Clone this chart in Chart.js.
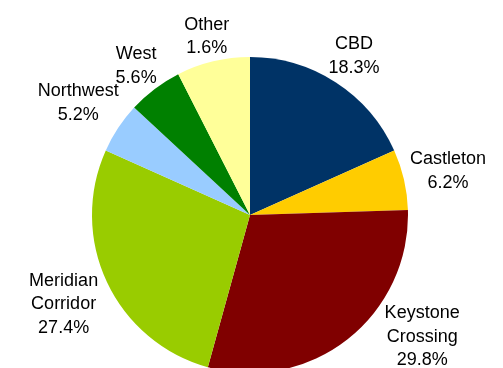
<!DOCTYPE html>
<html>
<head>
<meta charset="utf-8">
<script src="https://cdn.jsdelivr.net/npm/chart.js@4/dist/chart.umd.min.js"></script>
<style>
  html, body { margin: 0; padding: 0; background: #fff; }
  #wrap { width: 503px; height: 368px; }
</style>
</head>
<body>
<div id="wrap"><canvas id="pie" width="503" height="368"></canvas></div>
<script>
const categories = ["CBD", "Castleton", ["Keystone", "Crossing"], ["Meridian", "Corridor"], "Northwest", "West", "Other"];
// slice sizes
const values = [18.3, 6.2, 29.8, 27.4, 5.2, 5.6, 7.5];
// percentages printed on the original (Other reads 1.6% there)
const pctLabels = ["18.3%", "6.2%", "29.8%", "27.4%", "5.2%", "5.6%", "1.6%"];
const colors = ["#003366", "#FFCC00", "#800000", "#99CC00", "#99CCFF", "#008000", "#FFFF99"];

const FONT_SIZE = 18;
const LINE_H = 23.5;
const CAP_H = FONT_SIZE * 0.716;
const PAD = 4;

// Outside-end labels, pushed out of the pie and kept inside the canvas
const outsideLabels = {
  id: "outsideLabels",
  afterDatasetsDraw(chart) {
    const ctx = chart.ctx;
    const meta = chart.getDatasetMeta(0);
    const W = chart.width, H = chart.height;
    ctx.save();
    ctx.font = FONT_SIZE + "px 'Liberation Sans', Arial, sans-serif";
    ctx.fillStyle = "#000";
    ctx.textAlign = "center";
    ctx.textBaseline = "alphabetic";

    meta.data.forEach((arc, i) => {
      const p = arc.getProps(["x", "y", "startAngle", "endAngle", "outerRadius"], true);
      const cat = chart.data.labels[i];
      const lines = (Array.isArray(cat) ? cat : [cat]).concat([pctLabels[i]]);
      let w = 0;
      for (const l of lines) w = Math.max(w, ctx.measureText(l).width);
      const hw = w / 2;
      const hh = ((lines.length - 1) * LINE_H + CAP_H) / 2;

      const a = (p.startAngle + p.endAngle) / 2;
      const ux = Math.cos(a), uy = Math.sin(a);
      const r = p.outerRadius + PAD;
      const dist = r + hw * Math.abs(ux) + hh * Math.abs(uy);
      let cx = p.x + ux * dist;
      let cy = p.y + uy * dist;

      // keep inside canvas; if moved, slide sideways to clear the pie again
      const minY = hh + 2, maxY = H - hh - 3;
      if (cy > maxY || cy < minY) {
        cy = Math.min(Math.max(cy, minY), maxY);
        const near = uy > 0 ? (cy - hh - p.y) : (p.y - (cy + hh));
        const dx = near < r ? Math.sqrt(r * r - Math.max(near, 0) ** 2) : 0;
        cx = ux >= 0 ? p.x + dx + hw : p.x - dx - hw;
      }
      cx = Math.min(Math.max(cx, hw + 2), W - hw - 2);

      let base = cy - hh + CAP_H;
      for (const l of lines) {
        ctx.fillText(l, cx, base);
        base += LINE_H;
      }
    });
    ctx.restore();
  }
};

new Chart(document.getElementById("pie"), {
  type: "pie",
  data: {
    labels: categories,
    datasets: [{
      data: values,
      backgroundColor: colors,
      borderWidth: 0,
      clip: false
    }]
  },
  options: {
    responsive: false,
    animation: false,
    events: [],
    radius: 158,
    layout: { padding: { top: 62, bottom: 0, left: 92, right: 95 } },
    plugins: {
      legend: { display: false },
      tooltip: { enabled: false }
    }
  },
  plugins: [outsideLabels]
});
</script>
</body>
</html>
